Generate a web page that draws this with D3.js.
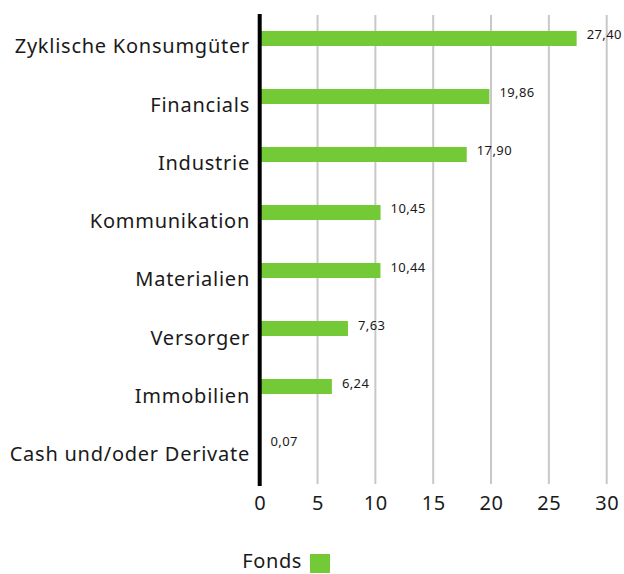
<!DOCTYPE html>
<html>
<head>
<meta charset="utf-8">
<script src="https://cdn.jsdelivr.net/npm/d3@7"></script>
<style>
  body { margin: 0; background: #fff; }
  svg { display: block; font-family: "Noto Sans", sans-serif; }
</style>
</head>
<body>
<div id="chart"></div>
<script>
// Sector weights of the fund
const categories = ["Zyklische Konsumgüter", "Financials", "Industrie", "Kommunikation",
    "Materialien", "Versorger", "Immobilien", "Cash und/oder Derivate"];
const values = [27.40, 19.86, 17.90, 10.45, 10.44, 7.63, 6.24, 0.07];
const ticks = [0, 5, 10, 15, 20, 25, 30];
const seriesName = "Fonds";

const width = 624, height = 574;
const barColor = "#74c936";

const svg = d3.select("#chart")
    .append("svg")
    .attr("width", width)
    .attr("height", height);

// Scales
let x = d3.scaleLinear()
    .domain([0, 30])
    .range([259.7, 606.7]);

let y = d3.scaleBand()
    .domain(categories)
    .range([9.5, 473.5])
    .paddingInner(0.741)
    .paddingOuter(0.37);

// Grid lines
svg.append("g")
    .selectAll("line")
    .data(ticks.slice(1))
    .enter().append("line")
    .attr("x1", d => x(d))
    .attr("x2", d => x(d))
    .attr("y1", 15)
    .attr("y2", 484)
    .attr("stroke", "#c8c8c8")
    .attr("stroke-width", 2);

// X axis tick labels
svg.append("g")
    .attr("transform", "translate(0,510)")
    .call(d3.axisBottom(x).tickValues(ticks).tickSize(0).tickPadding(0))
    .call(g => g.select(".domain").remove())
    .selectAll("text")
        .attr("dy", 0)
        .attr("y", 0)
        .style("font-family", "\"Noto Sans\", sans-serif")
        .style("font-size", "20px")
        .style("letter-spacing", "0.6px")
        .attr("fill", "#1a1a1a");

// Bars
svg.append("g")
    .selectAll("rect")
    .data(values)
    .enter().append("rect")
    .attr("x", x(0))
    .attr("y", (d, i) => y(categories[i]))
    .attr("width", d => x(d) - x(0))
    .attr("height", y.bandwidth())
    .attr("fill", barColor);

// Value labels
svg.append("g")
    .selectAll("text")
    .data(values)
    .enter().append("text")
    .attr("x", d => x(d) + 10)
    .attr("y", (d, i) => y(categories[i]) + y.bandwidth() / 2 + 1)
    .style("font-size", "13px")
    .style("letter-spacing", "0.4px")
    .attr("fill", "#1a1a1a")
    .text(d => d.toFixed(2).replace(".", ","));

// Category labels
svg.append("g")
    .selectAll("text")
    .data(categories)
    .enter().append("text")
    .attr("x", 250)
    .attr("y", (d, i) => y(d) + y.bandwidth() / 2 + 15 + i * 0.2)
    .attr("text-anchor", "end")
    .style("font-size", "20px")
    .style("letter-spacing", "0.75px")
    .attr("fill", "#1a1a1a")
    .text(d => d);

// Zero axis line
svg.append("line")
    .attr("x1", x(0))
    .attr("x2", x(0))
    .attr("y1", 14)
    .attr("y2", 486)
    .attr("stroke", "#000")
    .attr("stroke-width", 4);

// Legend
svg.append("text")
    .attr("x", 302)
    .attr("y", 568)
    .attr("text-anchor", "end")
    .style("font-size", "20px")
    .style("letter-spacing", "0.6px")
    .attr("fill", "#1a1a1a")
    .text(seriesName);

svg.append("rect")
    .attr("x", 310)
    .attr("y", 554)
    .attr("width", 20)
    .attr("height", 19)
    .attr("fill", barColor);
</script>
</body>
</html>
